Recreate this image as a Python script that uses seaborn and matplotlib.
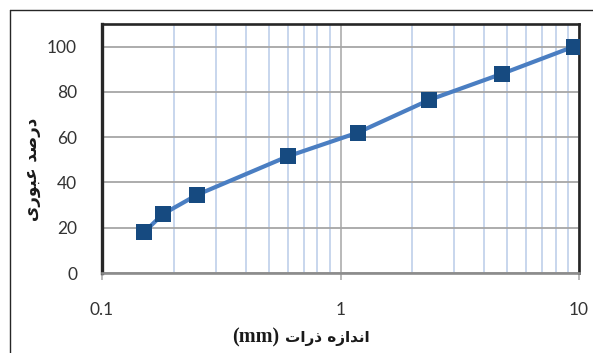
import matplotlib
matplotlib.use("Agg")
import matplotlib.pyplot as plt
from matplotlib.lines import Line2D
from matplotlib.ticker import FixedLocator, NullFormatter
import seaborn as sns
import pandas as pd

# Sieve analysis: particle size (mm) vs. percent passing
sieve_size_mm = [0.15, 0.18, 0.25, 0.6, 1.18, 2.36, 4.75, 9.5]
percent_passing = [18, 26, 34.5, 51.5, 62, 76.5, 88, 100]

x_ticks = [0.1, 1, 10]
x_tick_labels = ["0.1", "1", "10"]
y_ticks = [0, 20, 40, 60, 80, 100]
y_tick_labels = ["0", "20", "40", "60", "80", "100"]

x_title_words = ["اندازه", "ذرات"]
x_title_unit = "(mm)"
y_title_words = ["درصد", "عبوری"]

# Contextual forms (isolated, final, initial, medial) for the letters used
FORMS = {
    "ا": ("\uFE8D", "\uFE8E", None, None),
    "د": ("\uFEA9", "\uFEAA", None, None),
    "ذ": ("\uFEAB", "\uFEAC", None, None),
    "ر": ("\uFEAD", "\uFEAE", None, None),
    "ز": ("\uFEAF", "\uFEB0", None, None),
    "و": ("\uFEED", "\uFEEE", None, None),
    "ن": ("\uFEE5", "\uFEE6", "\uFEE7", "\uFEE8"),
    "ه": ("\uFEE9", "\uFEEA", "\uFEEB", "\uFEEC"),
    "ت": ("\uFE95", "\uFE96", "\uFE97", "\uFE98"),
    "ص": ("\uFEB9", "\uFEBA", "\uFEBB", "\uFEBC"),
    "ع": ("\uFEC9", "\uFECA", "\uFECB", "\uFECC"),
    "ب": ("\uFE8F", "\uFE90", "\uFE91", "\uFE92"),
    "ی": ("\uFBFC", "\uFBFD", "\uFBFE", "\uFBFF"),
}


def shape_word(word):
    """Join letters into their contextual forms and lay them out right-to-left."""
    glyphs = []
    for i, ch in enumerate(word):
        forms = FORMS[ch]
        joins_prev = i > 0 and FORMS[word[i - 1]][2] is not None
        joins_next = i < len(word) - 1 and forms[2] is not None
        if joins_prev and joins_next:
            g = forms[3]
        elif joins_prev:
            g = forms[1]
        elif joins_next:
            g = forms[2]
        else:
            g = forms[0]
        glyphs.append(g)
    return "".join(reversed(glyphs))


def rtl_phrase(words):
    return " ".join(shape_word(w) for w in reversed(words))


df = pd.DataFrame({"size": sieve_size_mm, "passing": percent_passing})

sns.set_theme(style="white")
plt.rcParams["font.family"] = ["Lato", "DejaVu Sans"]

W, H = 593, 353
fig = plt.figure(figsize=(W / 100, H / 100), dpi=100)
ax = fig.add_axes([102 / W, 1 - 273 / H, (579 - 102) / W, (273 - 24) / H])

sns.lineplot(
    data=df, x="size", y="passing", ax=ax,
    color="#4a7ec2", linewidth=3.0,
    marker="s", markersize=12, markerfacecolor="#164a80",
    markeredgewidth=0, zorder=5,
)

ax.set_xscale("log")
ax.set_xlim(0.1, 10)
ax.set_ylim(0, 110)

ax.xaxis.set_major_locator(FixedLocator(x_ticks))
ax.set_xticklabels(x_tick_labels)
minor = [m * d for d in (0.1, 1) for m in range(2, 10)]
ax.xaxis.set_minor_locator(FixedLocator(minor))
ax.xaxis.set_minor_formatter(NullFormatter())
ax.set_yticks(y_ticks)
ax.set_yticklabels(y_tick_labels)

ax.grid(False)
ax.grid(True, which="minor", axis="x", color="#b9cce8", linewidth=1.1)
ax.grid(True, which="major", axis="x", color="#a6a6a6", linewidth=1.1)
ax.grid(True, which="major", axis="y", color="#a6a6a6", linewidth=1.3)
ax.set_axisbelow(True)

ax.tick_params(axis="x", which="major", length=5, width=1.1, color="#a6a6a6",
               pad=16, labelsize=12.5, labelcolor="#333333", bottom=True)
ax.tick_params(axis="x", which="minor", length=0)
ax.tick_params(axis="y", length=0, pad=18, labelsize=12.5, labelcolor="#333333")

for side, lw, col in (("left", 2.4, "#262626"), ("top", 1.9, "#262626"),
                      ("right", 1.9, "#262626"), ("bottom", 1.9, "#8c8c8c")):
    ax.spines[side].set_visible(True)
    ax.spines[side].set_linewidth(lw)
    ax.spines[side].set_color(col)

ax.set_xlabel("")
ax.set_ylabel("")

# Axis titles: Persian words right-to-left, unit in a serif face to their left
fig.text(370 / W, 1 - 338 / H, rtl_phrase(x_title_words),
         ha="right", va="center", fontsize=11, fontweight="bold",
         family=["DejaVu Sans"], color="#1a1a1a")
fig.text(279 / W, 1 - 337 / H, x_title_unit,
         ha="right", va="center", fontsize=14.5, fontweight="bold",
         family=["Liberation Serif"], color="#1a1a1a")
fig.text(32 / W, 1 - 169 / H, rtl_phrase(y_title_words),
         ha="center", va="center", rotation=90, fontsize=12, fontweight="bold",
         family=["DejaVu Sans"], color="#1a1a1a")

# Chart-area frame
fig.add_artist(Line2D([10 / W, 1.0], [1 - 10 / H, 1 - 10 / H],
                      transform=fig.transFigure, color="#262626", linewidth=1.0))
fig.add_artist(Line2D([10 / W, 10 / W], [1 - 10 / H, 0.0],
                      transform=fig.transFigure, color="#262626", linewidth=1.0))

fig.savefig("out.png", dpi=100)
